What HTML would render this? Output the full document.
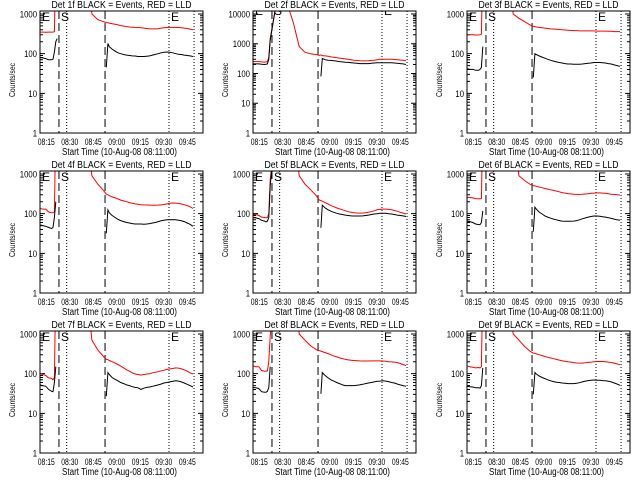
<!DOCTYPE html>
<html><head><meta charset="utf-8">
<style>
html,body{margin:0;padding:0;background:#fff}
svg{display:block}
text{font-family:"Liberation Sans",sans-serif;fill:#000}
</style></head>
<body>
<svg id="chart" xmlns="http://www.w3.org/2000/svg" width="640" height="480" viewBox="0 0 640 480">
<rect width="640" height="480" fill="#fff"/>
</svg>
<script>
// minutes since 08:11:00
const times=[0,1.8,3.7,5.5,7.4,8.3,9.2,10.1,11.0,14.7,18.4,22.1,25.8,29.5,33.1,36.8,40.5,42.3,43.3,
44.2,46.0,47.9,49.7,51.5,53.4,55.2,57.1,58.9,60.7,62.6,64.4,66.3,68.1,70.0,71.8,73.6,75.5,77.3,79.1,
81.0,82.8,84.7,86.5,88.4,90.2,92.0,93.9,95.7,97.6];
const tickMinutes=[4,19,34,49,64,79,94];
const tickLabels=["08:15","08:30","08:45","09:00","09:15","09:30","09:45"];
const dashedMinutes=[12.1,41.5];
const dottedMinutes=[17.0,82.3,98.3];
const letterMinutes=[0,12.1,82.3];
const letterTexts=["E","S","E"];
const detLabels=["1f","2f","3f","4f","5f","6f","7f","8f","9f"];
const yMaxExp=[3.075,4.1,3.075,3.075,3.075,3.075,3.075,3.075,3.075];

const red1=[350,350,345,350,350,350,360,20000,20000,20000,20000,20000,20000,20000,1000,720,640,610,600,590,570,550,530,510,495,480,470,465,460,455,450,440,430,420,420,420,425,440,450,455,460,460,460,455,450,440,430,415,400];
const black1=[80,78,75,70,70,72,110,200,240,null,null,null,null,null,null,null,null,45,180,150,130,115,105,100,95,92,90,88,87,85,85,85,86,88,92,96,100,105,108,110,108,105,100,97,95,92,90,88,85];
const red2=[250,250,250,245,240,245,250,350,1500,20000,20000,20000,5000,800,520,460,430,410,420,400,390,380,360,350,340,330,320,310,300,290,280,275,270,265,265,270,275,280,290,300,300,300,300,300,295,290,285,280,270];
const black2=[210,210,210,205,200,205,210,300,1300,20000,null,null,null,null,null,null,null,null,80,320,290,280,275,270,260,250,245,240,235,230,225,220,215,215,215,215,220,225,230,230,230,230,230,230,225,220,215,210,200];
const red3=[300,300,300,295,295,300,310,20000,20000,20000,20000,20000,20000,1000,780,640,520,490,480,470,460,450,440,430,420,415,410,405,400,395,390,385,380,380,375,375,375,375,375,375,370,370,370,370,365,365,360,360,360];
const black3=[42,40,40,38,38,40,45,150,null,null,null,null,null,null,null,null,null,25,100,95,88,82,77,72,68,65,62,60,58,56,55,55,54,54,54,55,56,57,58,60,60,60,59,58,56,55,52,50,48];
const red4=[135,130,130,110,105,105,110,20000,20000,20000,20000,20000,20000,20000,900,560,380,310,300,285,265,250,235,220,210,200,190,182,176,172,168,166,165,164,163,163,164,166,170,176,182,186,185,180,175,168,160,150,135];
const black4=[52,50,48,45,42,45,80,200,null,null,null,null,null,null,null,null,null,32,124,105,90,80,72,67,63,60,58,56,55,55,55,54,55,56,58,60,63,66,68,70,70,71,70,68,66,63,58,54,48];
const red5=[95,95,90,82,80,78,80,100,700,20000,20000,20000,20000,900,560,400,280,220,215,205,190,175,160,150,140,132,125,118,112,108,105,104,103,104,105,108,112,118,125,128,130,130,128,125,120,115,108,103,98];
const black5=[80,78,75,68,65,62,65,80,500,20000,null,null,null,null,null,null,null,null,44,163,140,125,115,108,102,98,95,92,90,88,87,87,87,88,90,92,95,98,100,102,102,102,100,98,95,92,90,88,85];
const red6=[260,255,250,240,238,238,240,20000,20000,20000,20000,20000,20000,20000,900,680,540,510,500,490,470,450,430,415,400,385,370,355,340,330,320,315,310,305,305,308,312,318,325,330,333,333,330,325,318,310,305,300,295];
const black6=[65,63,60,55,53,53,60,117,null,null,null,null,null,null,null,null,null,35,145,130,110,98,88,82,77,73,70,67,65,64,64,64,65,67,70,74,78,82,85,87,87,86,84,82,79,76,73,70,68];
const red7=[100,95,90,78,76,70,80,20000,20000,20000,20000,20000,20000,20000,700,400,270,230,225,215,200,185,170,155,140,125,115,105,98,95,92,95,98,100,105,108,112,118,122,128,132,135,140,138,132,125,115,105,98];
const black7=[52,50,48,40,36,35,60,150,null,null,null,null,null,null,null,null,null,27,106,95,80,72,66,60,56,52,50,47,45,44,40,43,45,46,48,50,52,55,58,60,62,64,66,65,62,58,54,50,46];
const red8=[157,150,150,120,115,115,118,200,900,20000,20000,20000,20000,1000,700,500,400,380,370,360,340,320,300,280,265,250,240,230,222,218,214,212,210,208,208,208,210,210,210,210,208,205,200,198,195,190,180,170,160];
const black8=[45,44,42,35,34,34,36,45,150,null,null,null,null,null,null,null,null,null,31,107,90,78,70,65,60,56,52,50,50,50,50,51,52,54,56,58,60,62,64,65,66,65,63,60,58,55,52,50,48];
const red9=[157,150,145,140,143,140,150,20000,20000,20000,20000,20000,20000,1000,700,480,360,330,325,315,300,285,270,258,248,238,228,220,212,206,200,195,190,186,184,185,188,192,196,200,203,203,202,200,196,190,184,176,167];
const black9=[48,47,46,44,44,43,50,140,null,null,null,null,null,null,null,null,null,30,107,98,88,80,75,70,66,63,61,60,58,57,56,56,56,57,59,62,65,67,68,69,68,68,67,66,64,62,58,55,51];

const redSeries=[red1,red2,red3,red4,red5,red6,red7,red8,red9];
const blackSeries=[black1,black2,black3,black4,black5,black6,black7,black8,black9];

const NS="http://www.w3.org/2000/svg";
const svg=document.getElementById("chart");
const lefts=[40,253,467], tops=[11,171,331];
const W=163, H=122, XSPAN=104;

function mk(tag,attrs,parent){
  const el=document.createElementNS(NS,tag);
  for(const k in attrs) el.setAttribute(k,attrs[k]);
  parent.appendChild(el);
  return el;
}

for(let p=0;p<9;p++){
  const L=lefts[p%3], T=tops[Math.floor(p/3)];
  const lmax=yMaxExp[p];
  const xs=m=>L+m*W/XSPAN;
  const ys=v=>T+(lmax-Math.log10(v))*H/lmax;

  const g=mk("g",{},svg);
  
  

  const clipId="clip"+p;
  const cp=mk("clipPath",{id:clipId},g);
  mk("rect",{x:L,y:T,width:W,height:H},cp);

  // title
  const title=mk("text",{x:L+W/2,y:T-3,"font-size":10,"text-anchor":"middle",textLength:140,lengthAdjust:"spacingAndGlyphs"},g);
  title.textContent="Det "+detLabels[p]+" BLACK = Events, RED = LLD";
  
  

  // y ticks
  let tickD="";
  for(let d=0;d<=Math.ceil(lmax);d++){
    if(d<=lmax){
      const y=ys(Math.pow(10,d));
      tickD+=`M${L},${y}h5M${L+W},${y}h-5`;
      const s=String(Math.pow(10,d));
      const lab=mk("text",{x:L-3,y:y+3.5,"font-size":9,"text-anchor":"end",textLength:s.length*4.3,lengthAdjust:"spacingAndGlyphs"},g);
      lab.textContent=s;
      
      
    }
    for(let m=2;m<=9;m++){
      const lv=d+Math.log10(m);
      if(lv<lmax){
        const y=ys(Math.pow(10,lv));
        tickD+=`M${L},${y}h3M${L+W},${y}h-3`;
      }
    }
  }
  const ticks=mk("path",{d:tickD,stroke:"#000","stroke-width":1,fill:"none"},g);
  
  

  // x tick labels
  for(let i=0;i<tickMinutes.length;i++){
    const t=mk("text",{x:xs(tickMinutes[i]),y:T+H+12,"font-size":9,"text-anchor":"middle",textLength:17,lengthAdjust:"spacingAndGlyphs"},g);
    t.textContent=tickLabels[i];
    
    
  }
  const xt=mk("text",{x:L+W/2-2,y:T+H+22,"font-size":10,"text-anchor":"middle",textLength:115,lengthAdjust:"spacingAndGlyphs"},g);
  xt.textContent="Start Time (10-Aug-08 08:11:00)";
  
  

  const yt=mk("text",{x:0,y:0,"font-size":8,"text-anchor":"middle",textLength:34,lengthAdjust:"spacingAndGlyphs",transform:`translate(${L-25},${T+69}) rotate(-90)`},g);
  yt.textContent="Counts/sec";
  
  

  const inner=mk("g",{"clip-path":`url(#${clipId})`},g);

  // vertical markers
  for(const m of dashedMinutes){
    const ln=mk("line",{x1:xs(m),x2:xs(m),y1:T,y2:T+H,stroke:"#000","stroke-width":1,"stroke-dasharray":"8,4"},inner);
    
    
  }
  for(const m of dottedMinutes){
    const ln=mk("line",{x1:xs(m),x2:xs(m),y1:T,y2:T+H,stroke:"#000","stroke-width":1,"stroke-dasharray":"1,2"},inner);
    
    
  }
  for(let i=0;i<letterMinutes.length;i++){
    const lt=mk("text",{x:xs(letterMinutes[i])+2,y:(lmax>3.5?T+4:T+10),"font-size":12},inner);
    lt.textContent=letterTexts[i];
    
    
  }

  function linePath(vals){
    let d="",pen=false;
    for(let i=0;i<times.length;i++){
      const v=vals[i];
      if(v===null||v===undefined){pen=false;continue;}
      d+=(pen?"L":"M")+xs(times[i]).toFixed(1)+","+ys(v).toFixed(1);
      pen=true;
    }
    return d;
  }
  const rp=mk("path",{d:linePath(redSeries[p]),stroke:"#ff0000","stroke-width":1,fill:"none"},inner);
  
  
  const bp=mk("path",{d:linePath(blackSeries[p]),stroke:"#000","stroke-width":1,fill:"none"},inner);
  
  

  const box=mk("rect",{x:L,y:T,width:W,height:H,fill:"none",stroke:"#000","stroke-width":1},g);
  
  
}
</script>
</body></html>
